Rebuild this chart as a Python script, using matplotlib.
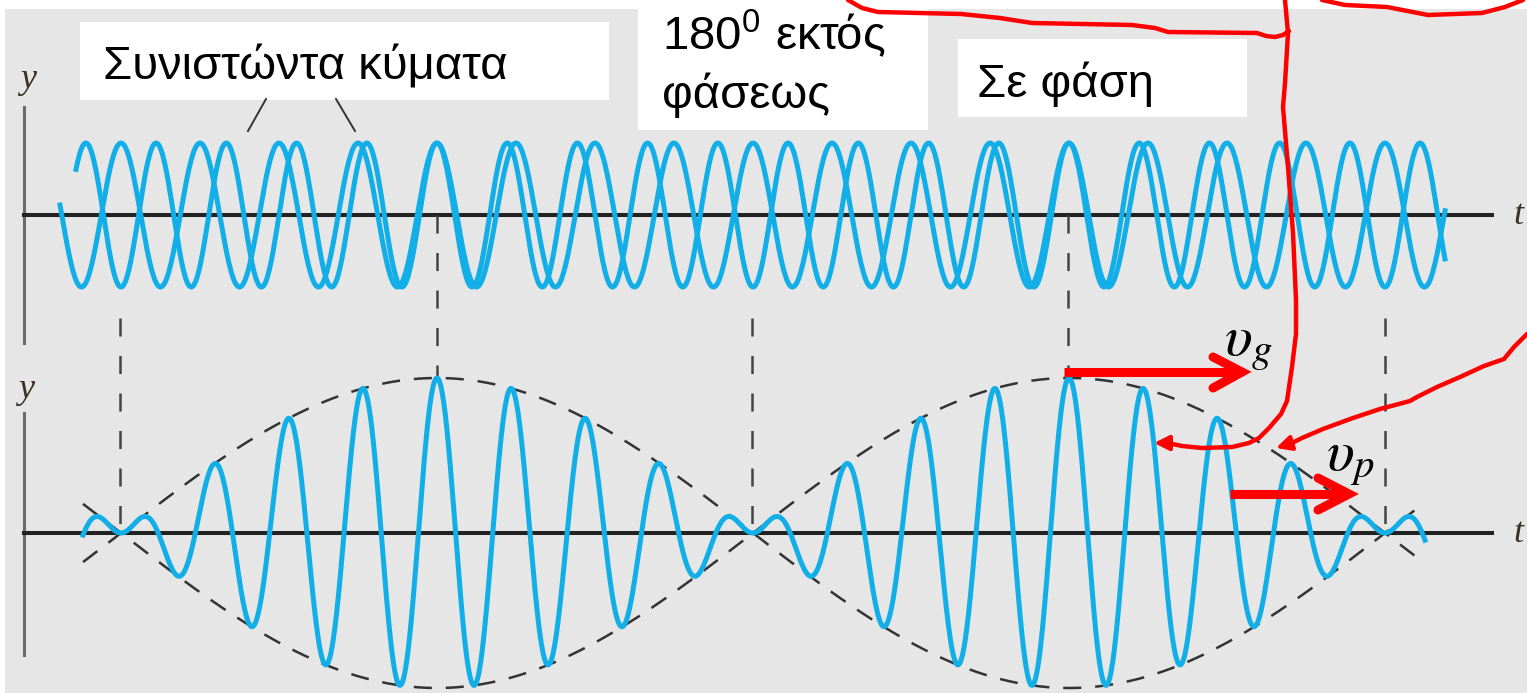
import numpy as np
import matplotlib
matplotlib.use("Agg")
import matplotlib.pyplot as plt
from matplotlib.patches import Rectangle

plt.rcParams['mathtext.fontset'] = 'stix'
plt.rcParams['lines.scale_dashes'] = False

# values (pixel units of the original drawing)
node_t = [120, 752, 1385]          # envelope zeros (180 deg out of phase)
inphase_t = [437, 1068]            # components in phase
carrier_periods = 8.5              # carrier periods between two nodes
top_amp = 72
bottom_amp = 155
top_axis = 215
bottom_axis = 533
comp_start = [76, 60]
comp_end = [1445, 1445]
sum_span = [83, 1425]

labels = ['Συνιστώντα κύματα', 'εκτός', 'φάσεως', 'Σε φάση']

half_beat = node_t[1] - node_t[0]
t0 = inphase_t[0]
f_c = carrier_periods / half_beat
f_d = 1.0 / (2 * half_beat)
freqs = [f_c + f_d, f_c - f_d]

blue = '#12aee8'
red = '#ff0000'

fig = plt.figure(figsize=(15.27, 6.93), dpi=100)
ax = fig.add_axes([0, 0, 1, 1])
ax.set_xlim(0, 1527)
ax.set_ylim(693, 0)
ax.axis('off')

ax.add_patch(Rectangle((5, 9), 1522, 684, fc='#e6e6e6', ec='none', zorder=0))
ax.add_patch(Rectangle((80, 22), 529, 78, fc='white', ec='none', zorder=1))
ax.add_patch(Rectangle((638, 0), 290, 130, fc='white', ec='none', zorder=1))
ax.add_patch(Rectangle((958, 39), 289, 78, fc='white', ec='none', zorder=1))

# axes of both panels
for yax, (v0, v1) in [(top_axis, (107, 343)), (bottom_axis, (413, 655))]:
    ax.plot([24, 24], [v0, v1], color='#6a6a6a', lw=2.2, zorder=2)
    ax.plot([24, 1492], [yax, yax], color='#222222', lw=2.9, zorder=2)
    ax.text(1518, yax, 't', family='Liberation Serif', style='italic',
            fontsize=26, color='#3b3024', ha='center', va='center', zorder=5)
ax.text(28, 80, 'y', family='Liberation Serif', style='italic', fontsize=26,
        color='#3b3024', ha='center', va='center', zorder=5)
ax.text(26, 390, 'y', family='Liberation Serif', style='italic', fontsize=26,
        color='#3b3024', ha='center', va='center', zorder=5)

# component waves
for f, a, b in zip(freqs, comp_start, comp_end):
    t = np.linspace(a, b, 1500)
    ax.plot(t, top_axis - top_amp * np.cos(2 * np.pi * f * (t - t0)),
            color=blue, lw=3.6, zorder=4)

# superposition and envelope
t = np.linspace(sum_span[0], sum_span[1], 3000)
env = bottom_amp * np.cos(np.pi * (t - t0) / half_beat)
ax.plot(t, bottom_axis - env * np.cos(2 * np.pi * f_c * (t - t0)),
        color=blue, lw=3.6, zorder=4)
for s in (1, -1):
    ax.plot(t, bottom_axis - s * env, color='#333333', lw=1.8,
            ls=(0, (13, 10)), zorder=3)

# vertical dashed guides
for x in inphase_t:
    ax.plot([x, x], [top_axis, bottom_axis - bottom_amp], color='#444444',
            lw=1.8, ls=(0, (13, 14)), zorder=3)
for x in node_t:
    ax.plot([x, x], [318, bottom_axis], color='#444444',
            lw=1.8, ls=(0, (13, 14)), zorder=3)

# labels
ax.text(103, 79, labels[0], family='Liberation Sans', fontsize=34, va='baseline', zorder=5)
ax.text(662, 51, r'180$^{\mathregular{0}}$ ' + labels[1], family='Liberation Sans',
        fontsize=34, va='baseline', zorder=5)
ax.text(662, 108, labels[2], family='Liberation Sans', fontsize=34, va='baseline', zorder=5)
ax.text(977, 97, labels[3], family='Liberation Sans', fontsize=34, va='baseline', zorder=5)
ax.plot([266, 248], [99, 131], color='#333333', lw=1.4, zorder=3)
ax.plot([336, 355], [99, 131], color='#333333', lw=1.4, zorder=3)

# red hand annotations
ax.plot([1064, 1240], [372, 372], color=red, lw=6.5, solid_capstyle='butt', zorder=6)
ax.plot([1213, 1242, 1213], [357, 372, 388], color=red, lw=6.5,
        solid_capstyle='round', solid_joinstyle='miter', zorder=6)
ax.plot([1230, 1348], [494, 494], color=red, lw=6.5, solid_capstyle='butt', zorder=6)
ax.plot([1318, 1349, 1318], [478, 494, 510], color=red, lw=6.5,
        solid_capstyle='round', solid_joinstyle='miter', zorder=6)
ax.text(1224, 355, r'$\upsilon_g$', fontsize=42, va='baseline', zorder=6)
ax.text(1326, 470, r'$\upsilon_p$', fontsize=42, va='baseline', zorder=6)

curve_a = [(848, 0), (862, 8), (878, 12), (961, 14), (1000, 18), (1032, 23),
           (1132, 25), (1155, 28), (1168, 32), (1257, 33), (1266, 36),
           (1275, 37), (1283, 35), (1289, 31)]
curve_b = [(1285, 0), (1288, 33), (1285, 83), (1283, 107), (1288, 167),
           (1293, 233), (1296, 300), (1296, 334), (1292, 367), (1287, 401),
           (1281, 414), (1269, 428), (1259, 438), (1249, 443), (1232, 447),
           (1202, 448), (1182, 446), (1168, 443)]
curve_c = [(1527, 334), (1514, 347), (1504, 359), (1484, 366), (1460, 377),
           (1437, 387), (1417, 397), (1410, 401), (1380, 409), (1353, 418),
           (1323, 429), (1302, 438), (1290, 444)]
curve_d = [(1322, 0), (1345, 5), (1387, 7), (1428, 15), (1482, 13),
           (1505, 7), (1523, 0)]
for c in (curve_a, curve_b, curve_c, curve_d):
    xs, ys = zip(*c)
    ax.plot(xs, ys, color=red, lw=3.2, solid_joinstyle='round',
            solid_capstyle='round', zorder=6)
ax.annotate('', xy=(1154, 443), xytext=(1170, 443),
            arrowprops=dict(arrowstyle='-|>', color=red, lw=3,
                            mutation_scale=22, shrinkA=0, shrinkB=0), zorder=6)
ax.annotate('', xy=(1276, 448), xytext=(1292, 443),
            arrowprops=dict(arrowstyle='-|>', color=red, lw=3,
                            mutation_scale=22, shrinkA=0, shrinkB=0), zorder=6)

fig.savefig('out.png', dpi=100)
